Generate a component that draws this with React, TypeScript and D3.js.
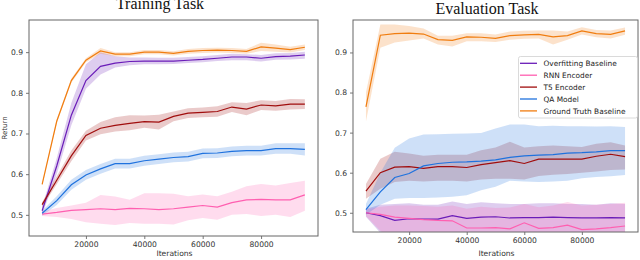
import * as d3 from "d3";
import React, {useEffect, useRef} from "react";

const iterations = [5000, 10000, 15000, 20000, 25000, 30000, 35000, 40000, 45000, 50000,
    55000, 60000, 65000, 70000, 75000, 80000, 85000, 90000, 95000];

const seriesNames = ["Overfitting Baseline", "RNN Encoder", "T5 Encoder", "QA Model", "Ground Truth Baseline"];
const seriesColors = ["#6a1cb8", "#ff5fb0", "#a00d0d", "#1f72de", "#f07d10"];
const xTicks = [20000, 40000, 60000, 80000];
const yTicks = [0.5, 0.6, 0.7, 0.8, 0.9];

// Training task
const trainOverfit = [0.51, 0.62, 0.745, 0.83, 0.865, 0.873, 0.877, 0.878, 0.878, 0.878, 0.88, 0.882, 0.885, 0.888, 0.888, 0.885, 0.889, 0.89, 0.893];
const trainOverfitLo = [0.5, 0.6, 0.72, 0.81, 0.845, 0.862, 0.868, 0.87, 0.87, 0.871, 0.873, 0.875, 0.878, 0.88, 0.88, 0.877, 0.881, 0.882, 0.884];
const trainOverfitHi = [0.52, 0.64, 0.775, 0.87, 0.9, 0.89, 0.887, 0.887, 0.886, 0.886, 0.888, 0.89, 0.893, 0.896, 0.895, 0.893, 0.897, 0.898, 0.901];

const trainRnn = [0.502, 0.506, 0.511, 0.513, 0.515, 0.513, 0.516, 0.515, 0.513, 0.515, 0.519, 0.523, 0.519, 0.53, 0.537, 0.538, 0.537, 0.537, 0.549];
const trainRnnLo = [0.497, 0.495, 0.49, 0.482, 0.478, 0.475, 0.48, 0.478, 0.478, 0.476, 0.487, 0.492, 0.488, 0.5, 0.502, 0.497, 0.5, 0.495, 0.51];
const trainRnnHi = [0.508, 0.517, 0.523, 0.53, 0.549, 0.545, 0.537, 0.553, 0.553, 0.552, 0.546, 0.55, 0.546, 0.557, 0.57, 0.576, 0.572, 0.578, 0.584];

const trainT5 = [0.525, 0.585, 0.645, 0.695, 0.713, 0.72, 0.725, 0.729, 0.728, 0.742, 0.75, 0.752, 0.754, 0.765, 0.76, 0.77, 0.768, 0.772, 0.772];
const trainT5Lo = [0.519, 0.575, 0.632, 0.683, 0.698, 0.705, 0.708, 0.714, 0.71, 0.73, 0.738, 0.74, 0.741, 0.753, 0.745, 0.758, 0.756, 0.759, 0.76];
const trainT5Hi = [0.531, 0.595, 0.658, 0.707, 0.728, 0.74, 0.745, 0.744, 0.746, 0.754, 0.762, 0.764, 0.767, 0.777, 0.775, 0.782, 0.78, 0.785, 0.784];

const trainQa = [0.504, 0.535, 0.574, 0.598, 0.613, 0.626, 0.626, 0.633, 0.637, 0.641, 0.643, 0.651, 0.652, 0.656, 0.658, 0.658, 0.663, 0.663, 0.661];
const trainQaLo = [0.498, 0.524, 0.562, 0.586, 0.601, 0.614, 0.614, 0.621, 0.625, 0.629, 0.631, 0.639, 0.64, 0.644, 0.646, 0.646, 0.65, 0.65, 0.646];
const trainQaHi = [0.51, 0.546, 0.586, 0.61, 0.625, 0.638, 0.638, 0.645, 0.649, 0.653, 0.655, 0.663, 0.664, 0.668, 0.67, 0.67, 0.676, 0.676, 0.676];

const trainGt = [0.575, 0.73, 0.83, 0.88, 0.903, 0.895, 0.895, 0.9, 0.9, 0.897, 0.902, 0.904, 0.905, 0.904, 0.902, 0.913, 0.91, 0.906, 0.912];
const trainGtLo = [0.572, 0.725, 0.825, 0.875, 0.896, 0.89, 0.89, 0.895, 0.895, 0.892, 0.896, 0.898, 0.899, 0.898, 0.896, 0.903, 0.901, 0.899, 0.905];
const trainGtHi = [0.578, 0.735, 0.835, 0.885, 0.91, 0.9, 0.9, 0.905, 0.905, 0.902, 0.908, 0.91, 0.911, 0.91, 0.908, 0.923, 0.919, 0.913, 0.919];

// Evaluation task
const evalOverfit = [0.5, 0.493, 0.481, 0.485, 0.484, 0.484, 0.493, 0.486, 0.489, 0.49, 0.487, 0.488, 0.488, 0.489, 0.488, 0.487, 0.487, 0.488, 0.487];
const evalOverfitLo = [0.49, 0.45, 0.43, 0.43, 0.43, 0.43, 0.44, 0.43, 0.435, 0.435, 0.43, 0.435, 0.435, 0.435, 0.435, 0.43, 0.43, 0.435, 0.43];
const evalOverfitHi = [0.51, 0.52, 0.522, 0.524, 0.52, 0.52, 0.528, 0.522, 0.526, 0.524, 0.522, 0.522, 0.524, 0.524, 0.522, 0.522, 0.52, 0.524, 0.522];

const evalRnn = [0.5, 0.496, 0.489, 0.486, 0.483, 0.481, 0.48, 0.462, 0.462, 0.463, 0.46, 0.475, 0.461, 0.463, 0.469, 0.458, 0.46, 0.463, 0.467];
const evalRnnLo = [0.492, 0.455, 0.43, 0.43, 0.425, 0.425, 0.425, 0.41, 0.41, 0.41, 0.405, 0.42, 0.41, 0.41, 0.415, 0.405, 0.405, 0.41, 0.41];
const evalRnnHi = [0.508, 0.515, 0.518, 0.518, 0.517, 0.515, 0.518, 0.51, 0.515, 0.512, 0.513, 0.522, 0.514, 0.518, 0.527, 0.518, 0.52, 0.522, 0.525];

const evalT5 = [0.554, 0.6, 0.614, 0.615, 0.611, 0.615, 0.615, 0.613, 0.62, 0.625, 0.63, 0.623, 0.634, 0.634, 0.634, 0.634, 0.641, 0.646, 0.64];
const evalT5Lo = [0.535, 0.56, 0.577, 0.58, 0.578, 0.58, 0.58, 0.578, 0.583, 0.585, 0.585, 0.583, 0.592, 0.595, 0.597, 0.6, 0.603, 0.607, 0.608];
const evalT5Hi = [0.572, 0.635, 0.652, 0.648, 0.642, 0.645, 0.645, 0.645, 0.656, 0.663, 0.677, 0.663, 0.666, 0.668, 0.666, 0.664, 0.672, 0.676, 0.668];

const evalQa = [0.508, 0.552, 0.588, 0.598, 0.617, 0.623, 0.626, 0.627, 0.629, 0.632, 0.638, 0.642, 0.644, 0.645, 0.649, 0.65, 0.652, 0.655, 0.655];
const evalQaLo = [0.495, 0.52, 0.535, 0.537, 0.537, 0.538, 0.54, 0.544, 0.556, 0.565, 0.58, 0.578, 0.577, 0.578, 0.58, 0.586, 0.589, 0.591, 0.594];
const evalQaHi = [0.522, 0.6, 0.662, 0.685, 0.695, 0.696, 0.697, 0.698, 0.699, 0.71, 0.72, 0.72, 0.716, 0.717, 0.716, 0.716, 0.715, 0.716, 0.714];

const evalGt = [0.764, 0.943, 0.947, 0.948, 0.946, 0.932, 0.93, 0.939, 0.938, 0.935, 0.942, 0.944, 0.945, 0.939, 0.942, 0.954, 0.947, 0.945, 0.954];
const evalGtLo = [0.728, 0.912, 0.925, 0.93, 0.935, 0.92, 0.915, 0.928, 0.928, 0.926, 0.932, 0.934, 0.935, 0.92, 0.932, 0.945, 0.938, 0.935, 0.944];
const evalGtHi = [0.8, 0.97, 0.97, 0.966, 0.96, 0.942, 0.942, 0.948, 0.948, 0.945, 0.952, 0.954, 0.955, 0.955, 0.952, 0.963, 0.956, 0.955, 0.962];

const panels = [
    {
        title: "Training Task", titleX: 160, titleY: 9, box: {left: 29, right: 318, top: 20, bottom: 236},
        yDomain: [0.448, 0.979], showYLabel: true, legend: false,
        series: [
            [trainOverfit, trainOverfitLo, trainOverfitHi],
            [trainRnn, trainRnnLo, trainRnnHi],
            [trainT5, trainT5Lo, trainT5Hi],
            [trainQa, trainQaLo, trainQaHi],
            [trainGt, trainGtLo, trainGtHi],
        ],
    },
    {
        title: "Evaluation Task", titleX: 487, titleY: 14, box: {left: 353, right: 638, top: 20, bottom: 232},
        yDomain: [0.452, 0.981], showYLabel: false, legend: true,
        series: [
            [evalOverfit, evalOverfitLo, evalOverfitHi],
            [evalRnn, evalRnnLo, evalRnnHi],
            [evalT5, evalT5Lo, evalT5Hi],
            [evalQa, evalQaLo, evalQaHi],
            [evalGt, evalGtLo, evalGtHi],
        ],
    },
];

const App = () => {
    const svgRef = useRef(null);

    useEffect(() => {
        const svg = d3.select(svgRef.current);
        svg.selectAll("*").remove();

        panels.forEach((p, pi) => {
            const {left, right, top, bottom} = p.box;
            const x = d3.scaleLinear().domain([500, 99500]).range([left, right]);
            const y = d3.scaleLinear().domain(p.yDomain).range([bottom, top]);

            const clipId = `clip-${pi}`;
            svg.append("clipPath").attr("id", clipId)
                .append("rect")
                .attr("x", left).attr("y", top)
                .attr("width", right - left).attr("height", bottom - top);

            const plot = svg.append("g").attr("clip-path", `url(#${clipId})`);

            // bands first (matplotlib draws collections under lines)
            p.series.forEach(([mean, lo, hi], si) => {
                const area = d3.area()
                    .x((d, i) => x(iterations[i]))
                    .y0((d, i) => y(lo[i]))
                    .y1((d, i) => y(hi[i]));
                plot.append("path")
                    .attr("d", area(mean))
                    .attr("fill", seriesColors[si])
                    .attr("fill-opacity", 0.22)
                    .attr("stroke", "none");
            });

            p.series.forEach(([mean], si) => {
                const line = d3.line()
                    .x((d, i) => x(iterations[i]))
                    .y((d) => y(d));
                plot.append("path")
                    .attr("d", line(mean))
                    .attr("fill", "none")
                    .attr("stroke", seriesColors[si])
                    .attr("stroke-width", 1.2);
            });

            // axes
            const xAxis = svg.append("g")
                .attr("transform", `translate(0,${bottom})`)
                .call(d3.axisBottom(x).tickValues(xTicks).tickSize(3).tickPadding(3).tickFormat(d3.format("d")));
            const yAxis = svg.append("g")
                .attr("transform", `translate(${left},0)`)
                .call(d3.axisLeft(y).tickValues(yTicks).tickSize(3).tickPadding(3).tickFormat(d3.format(".1f")));
            [xAxis, yAxis].forEach((a) => {
                a.select(".domain").remove();
                a.selectAll("line").attr("stroke", "#555").attr("stroke-width", 0.8);
                a.selectAll("text")
                    .attr("font-family", "DejaVu Sans")
                    .attr("font-size", 7.6)
                    .attr("fill", "#333");
            });

            svg.append("rect")
                .attr("x", left).attr("y", top)
                .attr("width", right - left).attr("height", bottom - top)
                .attr("fill", "none")
                .attr("stroke", "#666")
                .attr("stroke-width", 1);

            svg.append("text")
                .attr("x", p.titleX)
                .attr("y", p.titleY)
                .attr("text-anchor", "middle")
                .attr("font-family", "Liberation Serif")
                .attr("font-size", 16)
                .attr("fill", "#111")
                .text(p.title);

            svg.append("text")
                .attr("x", (left + right) / 2 + 1)
                .attr("y", 256)
                .attr("text-anchor", "middle")
                .attr("font-family", "DejaVu Sans")
                .attr("font-size", 7.6)
                .attr("fill", "#333")
                .text("Iterations");

            if (p.showYLabel) {
                svg.append("text")
                    .attr("transform", `translate(7,${128}) rotate(-90)`)
                    .attr("text-anchor", "middle")
                    .attr("font-family", "DejaVu Sans")
                    .attr("font-size", 7)
                    .attr("fill", "#333")
                    .text("Return");
            }

            if (p.legend) {
                const lg = svg.append("g");
                lg.append("rect")
                    .attr("x", 518.5).attr("y", 56.5)
                    .attr("width", 119).attr("height", 61.5)
                    .attr("rx", 2)
                    .attr("fill", "white").attr("fill-opacity", 0.85)
                    .attr("stroke", "#d0d0d0").attr("stroke-width", 0.8);
                seriesNames.forEach((name, i) => {
                    const ly = 63.3 + i * 11.9;
                    lg.append("line")
                        .attr("x1", 520).attr("x2", 537)
                        .attr("y1", ly).attr("y2", ly)
                        .attr("stroke", seriesColors[i]).attr("stroke-width", 1.3);
                    lg.append("text")
                        .attr("x", 543.5).attr("y", ly + 2.7)
                        .attr("font-family", "DejaVu Sans")
                        .attr("font-size", 7.4)
                        .attr("fill", "#222")
                        .text(name);
                });
            }
        });
    }, []);

    return (
        <svg ref={svgRef} width={640} height={260}
             style={{position: "absolute", left: 0, top: 0, background: "white"}}/>
    );
};

export default App;
